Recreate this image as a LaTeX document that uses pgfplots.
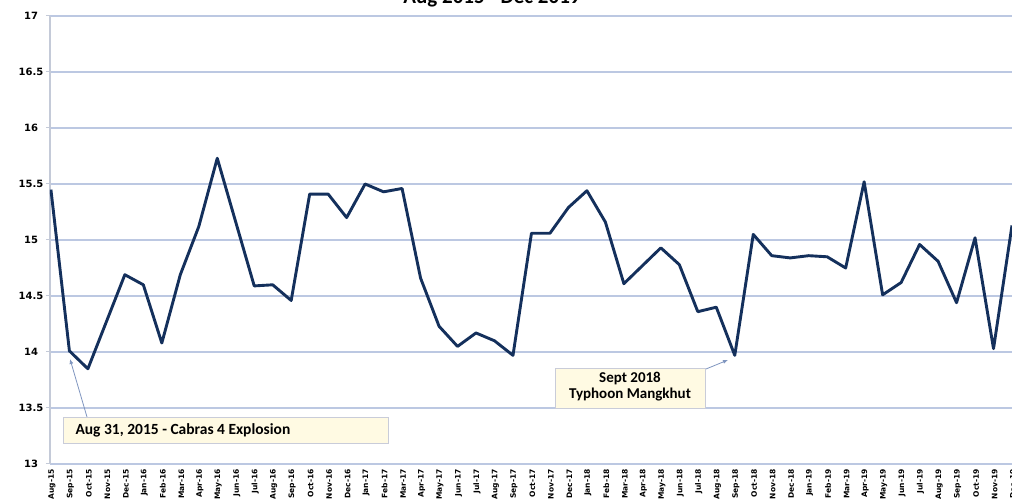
\documentclass[border=0pt]{standalone}
\usepackage{fontspec}
\setmainfont{DejaVu Sans}
\newfontfamily\carlito{Carlito}
\usepackage{pgfplots}
\pgfplotsset{compat=1.18}
\usepackage{pgfplotstable}
\usetikzlibrary{arrows.meta,calc}
\definecolor{navy}{HTML}{14305C}
\definecolor{gridc}{HTML}{BCC8E2}
\definecolor{axc}{HTML}{C4CAD8}
\definecolor{boxfill}{HTML}{FFFAE3}
\definecolor{boxdraw}{HTML}{C9CCD9}
\definecolor{arrowc}{HTML}{7F95BF}

\pgfplotstableread{
i v
0 15.45
1 14.01
2 13.85
3 14.27
4 14.69
5 14.60
6 14.08
7 14.69
8 15.12
9 15.73
10 15.16
11 14.59
12 14.60
13 14.46
14 15.41
15 15.41
16 15.20
17 15.50
18 15.43
19 15.46
20 14.66
21 14.23
22 14.05
23 14.17
24 14.10
25 13.97
26 15.06
27 15.06
28 15.29
29 15.44
30 15.16
31 14.61
32 14.77
33 14.93
34 14.78
35 14.36
36 14.40
37 13.97
38 15.05
39 14.86
40 14.84
41 14.86
42 14.85
43 14.75
44 15.52
45 14.51
46 14.62
47 14.96
48 14.81
49 14.44
50 15.02
51 14.03
52 15.13
}\data

\begin{document}
\begin{tikzpicture}[x=1pt,y=1pt]
\begin{axis}[
  scale only axis, width=962pt, height=448pt,
  xmin=-0.05, xmax=52, ymin=13, ymax=17,
  axis x line*=bottom, axis y line*=left,
  x axis line style={draw=gridc, line width=1.4pt},
  y axis line style={draw=axc, line width=1.2pt},
  ytick={13,13.5,14,14.5,15,15.5,16,16.5,17},
  yticklabels={13,13.5,14,14.5,15,15.5,16,16.5,17},
  xtick={0,...,52},
  xticklabels={Aug-15,Sep-15,Oct-15,Nov-15,Dec-15,Jan-16,Feb-16,Mar-16,Apr-16,May-16,Jun-16,Jul-16,Aug-16,Sep-16,Oct-16,Nov-16,Dec-16,Jan-17,Feb-17,Mar-17,Apr-17,May-17,Jun-17,Jul-17,Aug-17,Sep-17,Oct-17,Nov-17,Dec-17,Jan-18,Feb-18,Mar-18,Apr-18,May-18,Jun-18,Jul-18,Aug-18,Sep-18,Oct-18,Nov-18,Dec-18,Jan-19,Feb-19,Mar-19,Apr-19,May-19,Jun-19,Jul-19,Aug-19,Sep-19,Oct-19,Nov-19,Dec-19},
  tick align=outside,
  major tick length=4pt,
  ytick style={draw=axc, line width=1pt},
  xtick style={draw=none},
  ymajorgrids, grid style={draw=gridc, line width=1.4pt},
  xticklabel style={rotate=90, anchor=east, font=\bfseries\fontsize{7.5}{7.5}\selectfont, inner sep=1pt, yshift=-1pt},
  yticklabel style={anchor=center, xshift=-15pt, font=\bfseries\fontsize{10}{10}\selectfont},
  /pgf/number format/assume math mode=true,
]
\addplot[navy, line width=2.9pt, line join=round, mark=none] table[x=i, y=v] {\data};
\coordinate (sw) at (rel axis cs:0,0);
\end{axis}
\coordinate (O) at ($(sw)+(-50,-36)$);
\begin{scope}[shift={(O)}]
% title (partly outside the picture, as in the reference)
\node[anchor=base, font=\carlito\bfseries\fontsize{21}{21}\selectfont] at (492,496) {Aug 2015 - Dec 2019};
% annotation 1
\draw[arrowc, line width=0.8pt, -{Latex[length=5pt,width=4pt]}] (87,83) -- (70,141);
\draw[boxdraw, fill=boxfill, line width=0.8pt] (63,57) rectangle (388,83);
\node[anchor=west, font=\carlito\bfseries\fontsize{15.5}{15.5}\selectfont] at (72,70) {Aug 31, 2015 - Cabras 4 Explosion};
% annotation 2
\draw[arrowc, line width=0.8pt, -{Latex[length=5pt,width=4pt]}] (706,131) -- (728,140);
\draw[boxdraw, fill=boxfill, line width=0.8pt] (555,92) rectangle (705,132);
\node[align=center, font=\carlito\bfseries\fontsize{15}{16}\selectfont] at (630,113) {Sept 2018\\Typhoon Mangkhut};
\end{scope}
\pgfresetboundingbox
\path (O) rectangle ($(O)+(1012,500)$);
\end{tikzpicture}
\end{document}
